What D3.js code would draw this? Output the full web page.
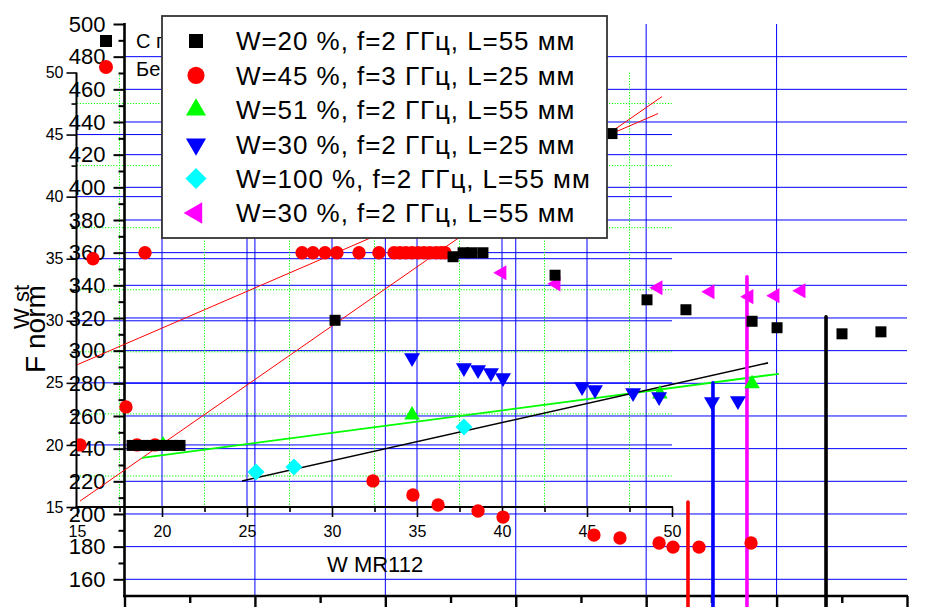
<!DOCTYPE html>
<html>
<head>
<meta charset="utf-8">
<script src="https://cdn.jsdelivr.net/npm/d3@7"></script>
<style>
  body { margin: 0; background: #fff; }
  svg { display: block; }
  text { font-family: "Liberation Sans", Arial, sans-serif; fill: #000; }
</style>
</head>
<body>
<svg id="chart" width="927" height="607"></svg>
<script>
// ---- axis ticks ----
const innerXTicks = [15, 20, 25, 30, 35, 40, 45, 50];
const innerXMinor = [17.5, 22.5, 27.5, 32.5, 37.5, 42.5, 47.5];
const innerYTicks = [15, 20, 25, 30, 35, 40, 45, 50];
const innerYMinor = [17.5, 22.5, 27.5, 32.5, 37.5, 42.5, 47.5];
const innerGridMajor = [20, 25, 30, 35, 40, 45];
const outerYTicks = [160, 180, 200, 220, 240, 260, 280, 300, 320, 340, 360, 380, 400, 420, 440, 460, 480, 500];
const outerYMinor = [170, 190, 210, 230, 250, 270, 290, 310, 330, 350, 370, 390, 410, 430, 450, 470, 490];
const outerXTicks = [0, 10, 20, 30, 40, 50, 60];
const outerXMinor = [5, 15, 25, 35, 45, 55];

// ---- series: W=20 %, f=2 ГГц, L=55 мм ----
const w20X = [18.24, 18.82, 19.41, 20.0, 20.59, 21.06, 30.18, 37.12, 37.71, 38.24, 38.88, 43.12, 46.47, 48.53, 50.82, 54.71, 56.18, 60.0, 62.29];
const w20Y = [19.96, 19.96, 19.96, 19.96, 19.96, 19.96, 30.04, 35.16, 35.48, 35.48, 35.48, 33.67, 45.08, 31.69, 30.89, 29.96, 29.44, 28.95, 29.11];

// ---- series: W=45 %, f=3 ГГц, L=25 мм ----
const w45X = [15.94, 15.18, 18.53, 19.59, 17.88, 19.0, 28.24, 28.88, 29.59, 30.29, 31.59, 32.76, 33.65, 34.0, 34.35, 34.71, 35.06, 35.41, 35.76, 36.12, 36.41, 36.65, 32.41, 34.76, 36.24, 38.59, 40.06, 45.41, 46.94, 49.24, 50.06, 51.59, 54.65];
const w45Y = [35.0, 20.0, 20.0, 20.0, 23.06, 35.48, 35.48, 35.48, 35.48, 35.48, 35.48, 35.48, 35.48, 35.48, 35.48, 35.48, 35.48, 35.48, 35.48, 35.48, 35.48, 35.48, 17.10, 15.97, 15.16, 14.68, 14.19, 12.74, 12.5, 12.10, 11.77, 11.77, 12.10];

// ---- series: W=51 %, f=2 ГГц, L=55 мм ----
const w51X = [20.06, 34.71, 49.29, 54.71];
const w51Y = [20.0, 22.42, 24.11, 24.92];

// ---- series: W=30 %, f=2 ГГц, L=25 мм ----
const w30sX = [34.71, 37.76, 38.59, 39.35, 40.06, 44.71, 45.47, 47.71, 49.24, 52.35, 53.88];
const w30sY = [27.02, 26.21, 26.05, 25.81, 25.40, 24.68, 24.44, 24.19, 23.87, 23.47, 23.55];

// ---- series: W=100 %, f=2 ГГц, L=55 мм ----
const w100X = [25.53, 27.76, 37.76];
const w100Y = [17.82, 18.23, 21.45];

// ---- series: W=30 %, f=2 ГГц, L=55 мм ----
const w30lX = [40.0, 43.18, 49.18, 52.24, 54.53, 56.06, 57.59];
const w30lY = [33.87, 32.98, 32.66, 32.34, 31.94, 32.02, 32.42];

// ---- fitted lines (start and end points) ----
const fitRedAX = [15.0, 49.18], fitRedAY = [26.45, 46.69];
const fitRedBX = [15.18, 49.41], fitRedBY = [15.48, 48.06];
const fitGreenX = [18.82, 56.29], fitGreenY = [18.95, 25.73];
const fitBlackX = [24.71, 55.65], fitBlackY = [17.10, 26.61];

// ---- threshold markers (vertical bars) ----
const thresholdX = [50.94, 52.41, 54.41, 59.06];
const thresholdTop = [15.40, 25.0, 33.55, 30.32];
const thresholdBottom = 6.5;

const legendLabels = [
  "W=20 %, f=2 ГГц, L=55 мм",
  "W=45 %, f=3 ГГц, L=25 мм",
  "W=51 %, f=2 ГГц, L=55 мм",
  "W=30 %, f=2 ГГц, L=25 мм",
  "W=100 %, f=2 ГГц, L=55 мм",
  "W=30 %, f=2 ГГц, L=55 мм"
];
const hysteresisLabels = ["С г", "Бе"];

const svg = d3.select("#chart");

// scales
const xIn = d3.scaleLinear([15, 50], [77, 672]);
const yIn = d3.scaleLinear([15, 50], [507, 72.5]);
const yOut = d3.scaleLinear([160, 500], [579.3, 24]);
const xOut = d3.scaleLinear([0, 60], [124.5, 907]);

const BLUE = "#0000ff", GREEN = "#00ff00";

// ---- outer panel grid ----
const gOuter = svg.append("g");
gOuter.selectAll("line.h").data(outerYTicks.filter(v => v < 500)).join("line")
  .attr("x1", xOut(0)).attr("x2", xOut(60))
  .attr("y1", d => yOut(d)).attr("y2", d => yOut(d))
  .attr("stroke", BLUE).attr("stroke-width", 1);
gOuter.selectAll("line.v").data(outerXTicks.slice(1, -1)).join("line")
  .attr("x1", d => xOut(d)).attr("x2", d => xOut(d))
  .attr("y1", 24).attr("y2", 596)
  .attr("stroke", BLUE).attr("stroke-width", 1);

// ---- inner panel grid ----
const gInner = svg.append("g");
gInner.selectAll("line.gh").data(innerYMinor).join("line")
  .attr("x1", xIn(15)).attr("x2", xIn(50))
  .attr("y1", d => yIn(d)).attr("y2", d => yIn(d))
  .attr("stroke", GREEN).attr("stroke-width", 1).attr("stroke-dasharray", "1.2,1.6");
gInner.selectAll("line.gv").data(innerXMinor).join("line")
  .attr("x1", d => xIn(d)).attr("x2", d => xIn(d))
  .attr("y1", yIn(50)).attr("y2", yIn(15))
  .attr("stroke", GREEN).attr("stroke-width", 1).attr("stroke-dasharray", "1.2,1.6");
gInner.selectAll("line.bh").data(innerGridMajor).join("line")
  .attr("x1", xIn(15)).attr("x2", xIn(50))
  .attr("y1", d => yIn(d)).attr("y2", d => yIn(d))
  .attr("stroke", BLUE).attr("stroke-width", 1);
gInner.selectAll("line.bv").data(innerGridMajor).join("line")
  .attr("x1", d => xIn(d)).attr("x2", d => xIn(d))
  .attr("y1", yIn(50)).attr("y2", yIn(15))
  .attr("stroke", BLUE).attr("stroke-width", 1);

// ---- outer axes ----
function styleAxis(g, width) {
  g.select(".domain").remove();
  g.selectAll(".tick line").attr("stroke", "#000").attr("stroke-width", width);
}
const oy = svg.append("g").attr("transform", "translate(124.5,0)")
  .call(d3.axisLeft(yOut).tickValues(outerYTicks).tickSize(11).tickPadding(8).tickFormat(d3.format("d")));
styleAxis(oy, 2);
oy.selectAll("text").attr("font-size", 22).attr("font-family", "Liberation Sans, Arial, sans-serif");
const oym = svg.append("g").attr("transform", "translate(124.5,0)")
  .call(d3.axisLeft(yOut).tickValues(outerYMinor).tickSize(6).tickFormat(""));
styleAxis(oym, 2);
svg.append("line").attr("x1", 124.5).attr("x2", 124.5).attr("y1", 23).attr("y2", 597)
  .attr("stroke", "#000").attr("stroke-width", 2.6);

const ox = svg.append("g").attr("transform", "translate(0,596)")
  .call(d3.axisBottom(xOut).tickValues(outerXTicks).tickSize(14).tickFormat(""));
styleAxis(ox, 2.4);
const oxm = svg.append("g").attr("transform", "translate(0,596)")
  .call(d3.axisBottom(xOut).tickValues(outerXMinor).tickSize(7).tickFormat(""));
styleAxis(oxm, 2.4);
svg.append("line").attr("x1", 123).attr("x2", 908).attr("y1", 596).attr("y2", 596)
  .attr("stroke", "#000").attr("stroke-width", 2.4);

// ---- inner axes ----
const iy = svg.append("g").attr("transform", "translate(76.5,0)")
  .call(d3.axisLeft(yIn).tickValues(innerYTicks).tickSize(10).tickPadding(3).tickFormat(d3.format("d")));
styleAxis(iy, 1.6);
iy.selectAll("text").attr("font-size", 16).attr("font-family", "Liberation Sans, Arial, sans-serif");
const iym = svg.append("g").attr("transform", "translate(76.5,0)")
  .call(d3.axisLeft(yIn).tickValues(innerYMinor).tickSize(5).tickFormat(""));
styleAxis(iym, 1.6);
svg.append("line").attr("x1", 76.5).attr("x2", 76.5).attr("y1", yIn(50)).attr("y2", 508)
  .attr("stroke", "#000").attr("stroke-width", 2);

const ix = svg.append("g").attr("transform", "translate(0,507)")
  .call(d3.axisBottom(xIn).tickValues(innerXTicks).tickSize(10).tickPadding(9).tickFormat(d3.format("d")));
styleAxis(ix, 1.6);
ix.selectAll("text").attr("font-size", 16).attr("font-family", "Liberation Sans, Arial, sans-serif");
const ixm = svg.append("g").attr("transform", "translate(0,507)")
  .call(d3.axisBottom(xIn).tickValues(innerXMinor).tickSize(5).tickFormat(""));
styleAxis(ixm, 1.6);
svg.append("line").attr("x1", 75.5).attr("x2", 673).attr("y1", 507).attr("y2", 507)
  .attr("stroke", "#000").attr("stroke-width", 2);

// ---- axis titles ----
svg.append("text").attr("x", 327).attr("y", 572).attr("font-size", 22).text("W MR112");
const yTitle = svg.append("g");
yTitle.append("text").attr("transform", "translate(45,373) rotate(-90)").attr("font-size", 28).text("F");
yTitle.append("text").attr("transform", "translate(45,349) rotate(-90)").attr("font-size", 28).text("norm");
yTitle.append("text").attr("transform", "translate(28.5,329) rotate(-90)").attr("font-size", 22).text("W st");

// ---- hysteresis key (partly under the main legend) ----
const hk = svg.append("g");
hk.append("path").attr("d", d3.symbol(d3.symbolSquare, 144)()).attr("transform", "translate(106,41)").attr("fill", "#000");
hk.append("path").attr("d", d3.symbol(d3.symbolCircle, 154)()).attr("transform", "translate(106,67)").attr("fill", "#ff0000");
hk.selectAll("text").data(hysteresisLabels).join("text")
  .attr("x", 136).attr("y", (d, i) => 48 + i * 28).attr("font-size", 20).text(d => d);

// ---- fits ----
svg.append("defs").append("clipPath").attr("id", "plotClip")
  .append("rect").attr("x", 77).attr("y", 0).attr("width", 850).attr("height", 607);
const gData = svg.append("g").attr("clip-path", "url(#plotClip)");
const lineGen = d3.line().x(d => xIn(d[0])).y(d => yIn(d[1]));
const fits = [
  { x: fitRedAX, y: fitRedAY, c: "#ff0000", w: 1 },
  { x: fitRedBX, y: fitRedBY, c: "#ff0000", w: 1 },
  { x: fitGreenX, y: fitGreenY, c: GREEN, w: 1.8 },
  { x: fitBlackX, y: fitBlackY, c: "#000", w: 1.6 }
];
fits.forEach(f => {
  gData.append("path").attr("d", lineGen(d3.zip(f.x, f.y)))
    .attr("fill", "none").attr("stroke", f.c).attr("stroke-width", f.w);
});

// ---- threshold bars ----
const thrColors = ["#ff0000", BLUE, "#ff00ff", "#000"];
gData.selectAll("line.thr").data(d3.zip(thresholdX, thresholdTop)).join("line")
  .attr("x1", d => xIn(d[0])).attr("x2", d => xIn(d[0]))
  .attr("y1", d => yIn(d[1])).attr("y2", yIn(thresholdBottom))
  .attr("stroke", (d, i) => thrColors[i]).attr("stroke-width", 3.6).attr("stroke-linecap", "round");

// ---- markers ----
const series = [
  { x: w20X, y: w20Y, c: "#000", sym: d3.symbolSquare, size: 121, rot: 0, lsize: 196 },
  { x: w45X, y: w45Y, c: "#ff0000", sym: d3.symbolCircle, size: 140, rot: 0, lsize: 230 },
  { x: w51X, y: w51Y, c: GREEN, sym: d3.symbolTriangle, size: 105, rot: 0, lsize: 175 },
  { x: w30sX, y: w30sY, c: BLUE, sym: d3.symbolTriangle, size: 110, rot: 180, lsize: 175 },
  { x: w100X, y: w100Y, c: "#00ffff", sym: d3.symbolSquare, size: 144, rot: 45, lsize: 220 },
  { x: w30lX, y: w30lY, c: "#ff00ff", sym: d3.symbolTriangle, size: 100, rot: -90, lsize: 200 }
];
const drawOrder = [4, 2, 3, 5, 1, 0];
drawOrder.forEach(k => {
  const s = series[k];
  gData.append("g").selectAll("path").data(d3.zip(s.x, s.y)).join("path")
    .attr("d", d3.symbol(s.sym, s.size)())
    .attr("transform", d => `translate(${xIn(d[0])},${yIn(d[1])}) rotate(${s.rot})`)
    .attr("fill", s.c);
});

// ---- legend ----
const lg = svg.append("g").attr("transform", "translate(162,16)");
lg.append("rect").attr("width", 445).attr("height", 222)
  .attr("fill", "#fff").attr("stroke", "#333").attr("stroke-width", 1.8);
series.forEach((s, i) => {
  const row = lg.append("g").attr("transform", `translate(0,${25 + i * 34.4})`);
  row.append("path").attr("d", d3.symbol(s.sym, s.lsize)())
    .attr("transform", `translate(34,0) rotate(${s.rot})`).attr("fill", s.c);
  row.append("text").attr("x", 74).attr("dy", "0.36em").attr("font-size", 26)
    .attr("letter-spacing", "0.95px").text(legendLabels[i]);
});
</script>
</body>
</html>
